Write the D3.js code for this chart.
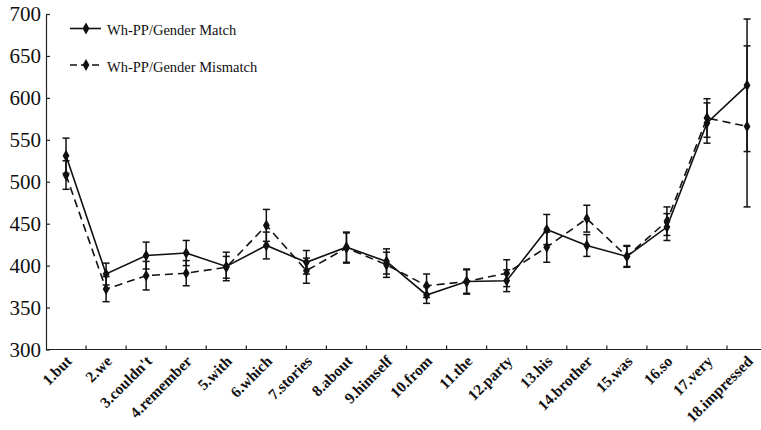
<!DOCTYPE html>
<html>
<head>
<meta charset="utf-8">
<script src="https://cdn.jsdelivr.net/npm/d3@7"></script>
<style>
  html, body { margin: 0; padding: 0; background: #fff; }
  svg { display: block; overflow: hidden; }
  text { font-family: "Liberation Serif", "Times New Roman", serif; fill: #111; }
</style>
</head>
<body>
<div id="chart"></div>
<script>
const categories = ["1.but", "2.we", "3.couldn't", "4.remember", "5.with", "6.which", "7.stories", "8.about", "9.himself",
    "10.from", "11.the", "12.party", "13.his", "14.brother", "15.was", "16.so", "17.very", "18.impressed"];

const matchRT     = [531, 390, 412, 415, 399, 424, 404, 422, 405, 365, 381, 382, 443, 424, 411, 446, 570, 615];
const matchErr    = [21, 13, 16, 15, 17, 16, 14, 18, 15, 10, 15, 13, 18, 13, 12, 16, 24, 79];
const mismatchRT  = [508, 372, 388, 391, 398, 448, 394, 421, 401, 376, 381, 391, 422, 456, 411, 453, 576, 566];
const mismatchErr = [17, 15, 17, 15, 13, 19, 15, 18, 15, 14, 14, 16, 18, 16, 13, 17, 23, 96];

const yTicks = [300, 350, 400, 450, 500, 550, 600, 650, 700];

const seriesNames = ["Wh-PP/Gender Match", "Wh-PP/Gender Mismatch"];

const W = 761, H = 430;
const plotLeft = 46, plotTop = 14, plotBottom = 349.5;
const bandW = 40.06;

const svg = d3.select("#chart").append("svg")
    .attr("width", W)
    .attr("height", H);

const x = d3.scaleBand()
    .domain(categories)
    .range([plotLeft, plotLeft + bandW * categories.length])
    .padding(0);

const y = d3.scaleLinear()
    .domain([300, 700])
    .range([plotBottom, plotTop]);

const cx = d => x(d) + x.bandwidth() / 2;

//y axis, ticks pointing inward
const yAxis = svg.append("g")
    .attr("transform", `translate(${plotLeft},0)`)
    .call(d3.axisLeft(y).tickValues(yTicks).tickSizeInner(-4).tickSizeOuter(0).tickPadding(5));
yAxis.select(".domain").attr("stroke", "#222").attr("stroke-width", 1.2);
yAxis.selectAll(".tick line").attr("stroke", "#222").attr("stroke-width", 1.2);
yAxis.selectAll("text")
    .style("font-size", "21px")
    .style("font-family", "'Liberation Serif', serif")
    .attr("fill", "#111");

//x axis line + boundary ticks
svg.append("line")
    .attr("x1", plotLeft).attr("x2", x.range()[1])
    .attr("y1", plotBottom).attr("y2", plotBottom)
    .attr("stroke", "#222").attr("stroke-width", 1.2);

svg.selectAll(".xtick")
    .data(categories.slice(1))
    .enter()
    .append("line")
    .attr("class", "xtick")
    .attr("x1", d => x(d)).attr("x2", d => x(d))
    .attr("y1", plotBottom).attr("y2", plotBottom - 4)
    .attr("stroke", "#222").attr("stroke-width", 1.2);

svg.selectAll(".xlabel")
    .data(categories)
    .enter()
    .append("text")
    .attr("class", "xlabel")
    .attr("transform", d => `translate(${cx(d) - 1},${plotBottom + 5}) rotate(-45)`)
    .attr("text-anchor", "end")
    .attr("dy", "0.7em")
    .style("font-size", "15.5px")
    .style("font-weight", "bold")
    .text(d => d);

//series
const series = [
    {name: seriesNames[0], values: matchRT, err: matchErr, dash: null},
    {name: seriesNames[1], values: mismatchRT, err: mismatchErr, dash: "8,5"}
];

const line = d3.line()
    .x(d => cx(d.cat))
    .y(d => y(d.v));

const diamond = d3.symbol().type(d3.symbolDiamond).size(40);

series.forEach(s => {
    const pts = categories.map((c, i) => ({cat: c, v: s.values[i], e: s.err[i]}));
    const g = svg.append("g");

    g.append("path")
        .datum(pts)
        .attr("d", line)
        .attr("fill", "none")
        .attr("stroke", "#111")
        .attr("stroke-width", 1.6)
        .attr("stroke-dasharray", s.dash);

    const eb = g.selectAll(".eb")
        .data(pts)
        .enter()
        .append("g");
    eb.append("line")
        .attr("x1", d => cx(d.cat)).attr("x2", d => cx(d.cat))
        .attr("y1", d => y(d.v - d.e)).attr("y2", d => y(d.v + d.e))
        .attr("stroke", "#111").attr("stroke-width", 1.5);
    [-1, 1].forEach(sign => {
        eb.append("line")
            .attr("x1", d => cx(d.cat) - 3.5).attr("x2", d => cx(d.cat) + 3.5)
            .attr("y1", d => y(d.v + sign * d.e)).attr("y2", d => y(d.v + sign * d.e))
            .attr("stroke", "#111").attr("stroke-width", 1.5);
    });

    g.selectAll(".pt")
        .data(pts)
        .enter()
        .append("path")
        .attr("d", diamond)
        .attr("transform", d => `translate(${cx(d.cat)},${y(d.v)})`)
        .attr("fill", "#111");
});

//legend
const legend = svg.append("g");
series.forEach((s, i) => {
    const ly = 28.5 + i * 36.5;
    legend.append("line")
        .attr("x1", 70).attr("x2", 101)
        .attr("y1", ly).attr("y2", ly)
        .attr("stroke", "#111").attr("stroke-width", 1.6)
        .attr("stroke-dasharray", s.dash ? "7,4" : null);
    legend.append("path")
        .attr("d", diamond)
        .attr("transform", `translate(86,${ly})`)
        .attr("fill", "#111");
    legend.append("text")
        .attr("x", 107).attr("y", ly + 1.5)
        .attr("dy", "0.35em")
        .style("font-size", "14.5px")
        .text(s.name);
});
</script>
</body>
</html>
